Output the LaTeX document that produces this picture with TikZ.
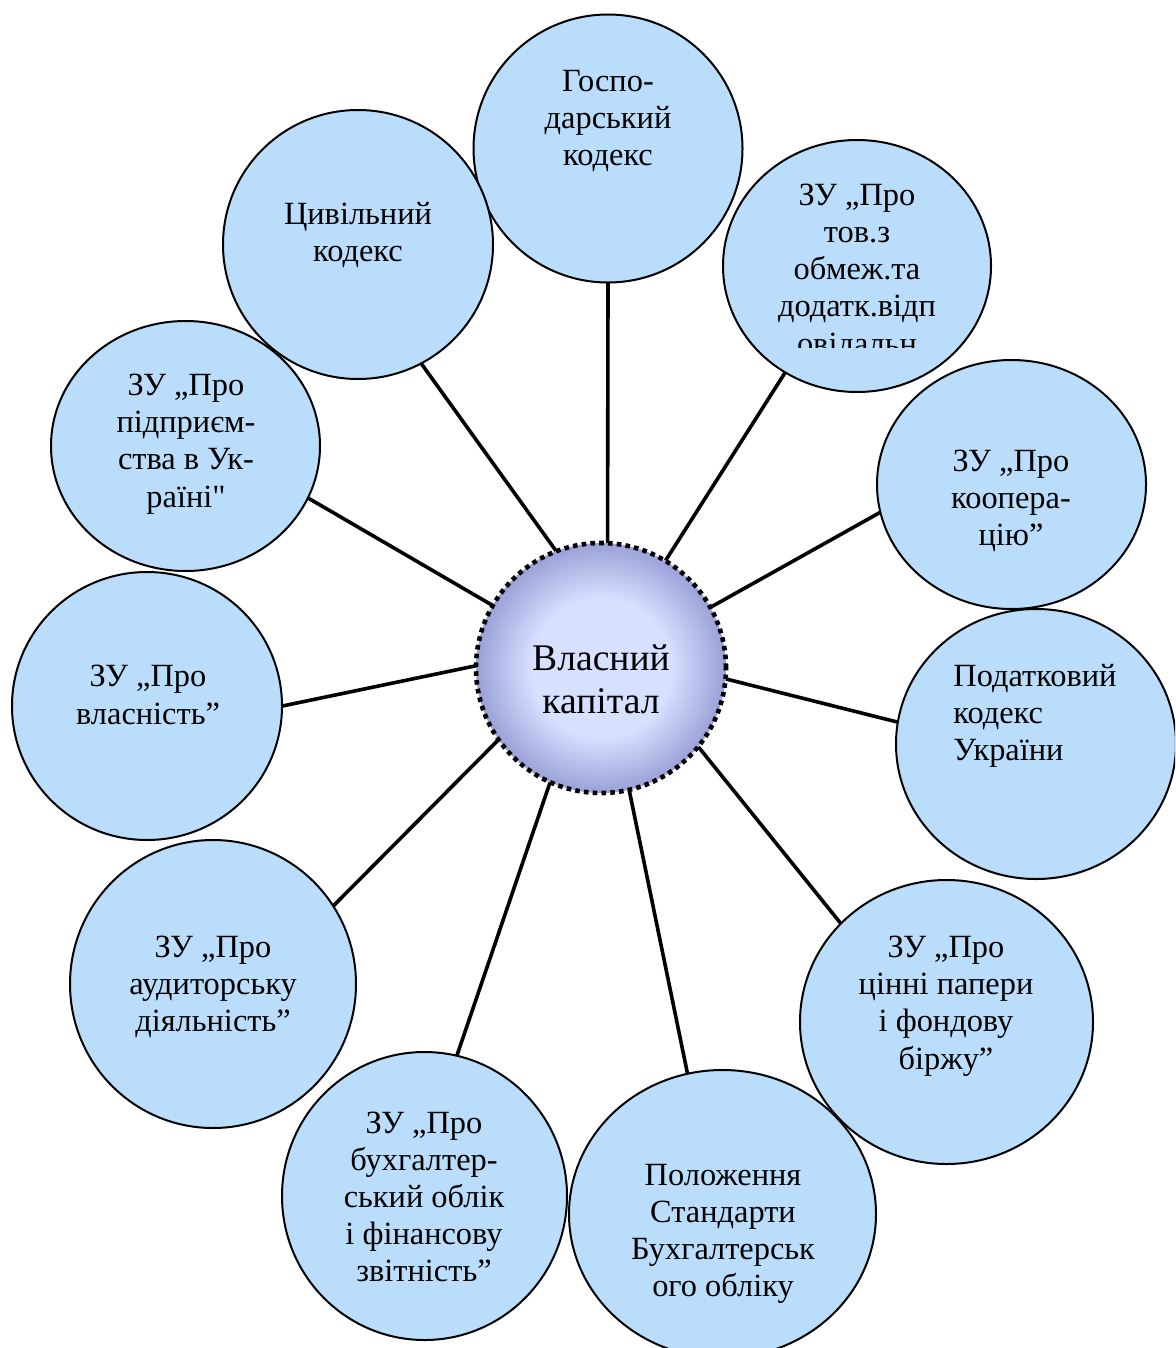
\documentclass[tikz,border=0pt]{standalone}
\usepackage{fontspec}
\setmainfont{Liberation Serif}
\usetikzlibrary{shapes.geometric}
\definecolor{cfill}{RGB}{187,221,252}
\definecolor{cin}{RGB}{214,224,255}
\definecolor{cout}{RGB}{128,134,198}
\pgfdeclareradialshading{capshade}{\pgfpoint{0bp}{0bp}}{color(0bp)=(cin); color(14bp)=(cin); color(25bp)=(cout!70!cin); color(33bp)=(cout); color(50bp)=(cout)}
\tikzset{
  bub/.style={ellipse, draw=black, line width=1pt, fill=cfill, inner sep=0pt},
  txt/.style={align=center, font=\fontsize{16.2pt}{18.6pt}\selectfont, inner sep=0pt},
  conn/.style={line width=1.8pt, black},
}
\begin{document}
\begin{tikzpicture}[x=0.5pt,y=-0.5pt]
\useasboundingbox (0,0) rectangle (1175,1348);
\clip (0,0) rectangle (1175,1348);
% connectors drawn first (behind circles)
\coordinate (cc) at (601,668);
\node[circle, minimum size=125pt, inner sep=0pt] (c) at (cc) {};
\node[ellipse, minimum width=134.5pt, minimum height=134pt, inner sep=0pt] (gosp) at (608,148.5) {};
\node[ellipse, minimum width=135pt, minimum height=134.5pt, inner sep=0pt] (civ) at (358,244.5) {};
\node[ellipse, minimum width=134pt, minimum height=126pt, inner sep=0pt] (tov) at (857,266) {};
\node[ellipse, minimum width=134.5pt, minimum height=124.5pt, inner sep=0pt] (koop) at (1011.5,484.5) {};
\node[ellipse, minimum width=140pt, minimum height=135pt, inner sep=0pt] (podat) at (1036,744) {};
\node[ellipse, minimum width=146.5pt, minimum height=142pt, inner sep=0pt] (cinni) at (946.5,1022) {};
\node[ellipse, minimum width=153.5pt, minimum height=144pt, inner sep=0pt] (polozh) at (722.5,1214) {};
\node[ellipse, minimum width=142.5pt, minimum height=144pt, inner sep=0pt] (buh) at (424.5,1196) {};
\node[ellipse, minimum width=143pt, minimum height=144pt, inner sep=0pt] (audyt) at (213,984) {};
\node[ellipse, minimum width=135pt, minimum height=134pt, inner sep=0pt] (vlasn) at (147,706) {};
\node[ellipse, minimum width=134.5pt, minimum height=125pt, inner sep=0pt] (pidpr) at (185.5,446) {};

\draw[conn] (c.87) -- (gosp.-90);
\draw[conn] (c.111) -- (civ.-62.9);
\draw[conn] (c.59.7) -- (tov.236.8);
\draw[conn] (c.29.7) -- (koop.192.2);
\draw[conn] (c.-5.5) -- (podat.171.9);
\draw[conn] (c.-39.8) -- (cinni.137.8);
\draw[conn] (c.-77.5) -- (polozh.104.6);
\draw[conn] (c.246.3) -- (buh.77.9);
\draw[conn] (c.215.2) -- (audyt.33.4);
\draw[conn] (c.179.5) -- (vlasn.0.4);
\draw[conn] (c.150.4) -- (pidpr.-23.5);

% circles
\node[bub, minimum width=134.5pt, minimum height=134pt] (gospB) at (gosp) {};
\node[bub, minimum width=135pt, minimum height=134.5pt] (civB) at (civ) {};
\node[bub, minimum width=134pt, minimum height=126pt] (tovB) at (tov) {};
\node[bub, minimum width=134.5pt, minimum height=124.5pt] (koopB) at (koop) {};
\node[bub, minimum width=140pt, minimum height=135pt] (podatB) at (podat) {};
\node[bub, minimum width=146.5pt, minimum height=142pt] (cinniB) at (cinni) {};
\node[bub, minimum width=153.5pt, minimum height=144pt] (polozhB) at (polozh) {};
\node[bub, minimum width=142.5pt, minimum height=144pt] (buhB) at (buh) {};
\node[bub, minimum width=143pt, minimum height=144pt] (audytB) at (audyt) {};
\node[bub, minimum width=135pt, minimum height=134pt] (vlasnB) at (vlasn) {};
\node[bub, minimum width=134.5pt, minimum height=125pt] (pidprB) at (pidpr) {};

% centre
\node[circle, minimum size=125pt, inner sep=0pt, shading=capshade, draw=black, line width=2.3pt, dash pattern=on 2.3pt off 2.1pt] (cB) at (cc) {};

% texts
\node[txt] (tgosp) at (608,121) {Госпо-\\дарський\\кодекс};
\node[txt] (tciv) at (358,235) {Цивільний\\кодекс};
\begin{scope}
\clip (760,170) rectangle (960,347);
\node[txt] (ttov) at (857,272) {ЗУ „Про\\тов.з\\обмеж.та\\додатк.відп\\овідальн};
\end{scope}
\node[txt] (tkoop) at (1011,501) {ЗУ „Про\\коопера-\\цію”};
\node[txt, align=left, anchor=west] (tpodat) at (953,716) {Податковий\\кодекс\\України};
\node[txt] (tcinni) at (946,1006) {ЗУ „Про\\цінні папери\\і фондову\\біржу”};
\node[txt] (tpolozh) at (723,1234) {Положення\\Стандарти\\Бухгалтерськ\\ого обліку};
\node[txt] (tbuh) at (424,1197) {ЗУ „Про\\бухгалтер-\\ський облік\\і фінансову\\звітність”};
\node[txt] (taudyt) at (213,987) {ЗУ „Про\\аудиторську\\діяльність”};
\node[txt] (tvlasn) at (148,695) {ЗУ „Про\\власність”};
\node[txt] (tpidpr) at (186,444) {ЗУ „Про\\підприєм-\\ства в Ук-\\раїні\textquotedbl};
\node[align=center, inner sep=0pt, font=\fontsize{18.8pt}{21.5pt}\selectfont] (tc) at (601,679) {Власний\\капітал};
\end{tikzpicture}
\end{document}
